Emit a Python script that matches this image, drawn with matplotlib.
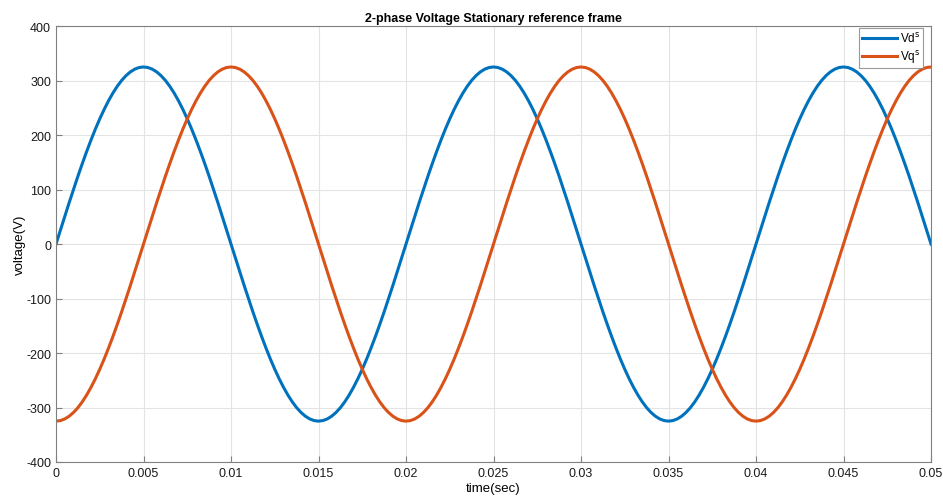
import matplotlib
matplotlib.use("Agg")
import matplotlib.pyplot as plt

plt.rcParams['font.family'] = ['Liberation Sans', 'DejaVu Sans']
plt.rcParams['axes.unicode_minus'] = False

# time samples (s), 0.25 ms apart
t = [i * 0.00025 for i in range(201)]

# alpha-axis voltage
vd = [0, 25.5, 50.8, 75.9, 100.4, 124.4, 147.5, 169.8, 191.0, 211.1,
      229.8, 247.1, 262.9, 277.1, 289.6, 300.3, 309.1, 316.0, 321.0, 324.0,
      325, 324.0, 321.0, 316.0, 309.1, 300.3, 289.6, 277.1, 262.9, 247.1,
      229.8, 211.1, 191.0, 169.8, 147.5, 124.4, 100.4, 75.9, 50.8, 25.5,
      0, -25.5, -50.8, -75.9, -100.4, -124.4, -147.5, -169.8, -191.0, -211.1,
      -229.8, -247.1, -262.9, -277.1, -289.6, -300.3, -309.1, -316.0, -321.0, -324.0,
      -325, -324.0, -321.0, -316.0, -309.1, -300.3, -289.6, -277.1, -262.9, -247.1,
      -229.8, -211.1, -191.0, -169.8, -147.5, -124.4, -100.4, -75.9, -50.8, -25.5,
      0, 25.5, 50.8, 75.9, 100.4, 124.4, 147.5, 169.8, 191.0, 211.1,
      229.8, 247.1, 262.9, 277.1, 289.6, 300.3, 309.1, 316.0, 321.0, 324.0,
      325, 324.0, 321.0, 316.0, 309.1, 300.3, 289.6, 277.1, 262.9, 247.1,
      229.8, 211.1, 191.0, 169.8, 147.5, 124.4, 100.4, 75.9, 50.8, 25.5,
      0, -25.5, -50.8, -75.9, -100.4, -124.4, -147.5, -169.8, -191.0, -211.1,
      -229.8, -247.1, -262.9, -277.1, -289.6, -300.3, -309.1, -316.0, -321.0, -324.0,
      -325, -324.0, -321.0, -316.0, -309.1, -300.3, -289.6, -277.1, -262.9, -247.1,
      -229.8, -211.1, -191.0, -169.8, -147.5, -124.4, -100.4, -75.9, -50.8, -25.5,
      0, 25.5, 50.8, 75.9, 100.4, 124.4, 147.5, 169.8, 191.0, 211.1,
      229.8, 247.1, 262.9, 277.1, 289.6, 300.3, 309.1, 316.0, 321.0, 324.0,
      325, 324.0, 321.0, 316.0, 309.1, 300.3, 289.6, 277.1, 262.9, 247.1,
      229.8, 211.1, 191.0, 169.8, 147.5, 124.4, 100.4, 75.9, 50.8, 25.5,
      0]

# beta-axis voltage
vq = [-325, -324.0, -321.0, -316.0, -309.1, -300.3, -289.6, -277.1, -262.9, -247.1,
      -229.8, -211.1, -191.0, -169.8, -147.5, -124.4, -100.4, -75.9, -50.8, -25.5,
      0, 25.5, 50.8, 75.9, 100.4, 124.4, 147.5, 169.8, 191.0, 211.1,
      229.8, 247.1, 262.9, 277.1, 289.6, 300.3, 309.1, 316.0, 321.0, 324.0,
      325, 324.0, 321.0, 316.0, 309.1, 300.3, 289.6, 277.1, 262.9, 247.1,
      229.8, 211.1, 191.0, 169.8, 147.5, 124.4, 100.4, 75.9, 50.8, 25.5,
      0, -25.5, -50.8, -75.9, -100.4, -124.4, -147.5, -169.8, -191.0, -211.1,
      -229.8, -247.1, -262.9, -277.1, -289.6, -300.3, -309.1, -316.0, -321.0, -324.0,
      -325, -324.0, -321.0, -316.0, -309.1, -300.3, -289.6, -277.1, -262.9, -247.1,
      -229.8, -211.1, -191.0, -169.8, -147.5, -124.4, -100.4, -75.9, -50.8, -25.5,
      0, 25.5, 50.8, 75.9, 100.4, 124.4, 147.5, 169.8, 191.0, 211.1,
      229.8, 247.1, 262.9, 277.1, 289.6, 300.3, 309.1, 316.0, 321.0, 324.0,
      325, 324.0, 321.0, 316.0, 309.1, 300.3, 289.6, 277.1, 262.9, 247.1,
      229.8, 211.1, 191.0, 169.8, 147.5, 124.4, 100.4, 75.9, 50.8, 25.5,
      0, -25.5, -50.8, -75.9, -100.4, -124.4, -147.5, -169.8, -191.0, -211.1,
      -229.8, -247.1, -262.9, -277.1, -289.6, -300.3, -309.1, -316.0, -321.0, -324.0,
      -325, -324.0, -321.0, -316.0, -309.1, -300.3, -289.6, -277.1, -262.9, -247.1,
      -229.8, -211.1, -191.0, -169.8, -147.5, -124.4, -100.4, -75.9, -50.8, -25.5,
      0, 25.5, 50.8, 75.9, 100.4, 124.4, 147.5, 169.8, 191.0, 211.1,
      229.8, 247.1, 262.9, 277.1, 289.6, 300.3, 309.1, 316.0, 321.0, 324.0,
      325]

xticks = [0, 0.005, 0.01, 0.015, 0.02, 0.025, 0.03, 0.035, 0.04, 0.045, 0.05]
xtick_labels = ['0', '0.005', '0.01', '0.015', '0.02', '0.025', '0.03',
                '0.035', '0.04', '0.045', '0.05']
yticks = [-400, -300, -200, -100, 0, 100, 200, 300, 400]

fig = plt.figure(figsize=(9.43, 5.02), dpi=100)
ax = fig.add_axes([0.0594, 0.0777, 0.9279, 0.8683])

ax.plot(t, vd, color='#0072BD', lw=2.2, label=r'Vd$^{\mathrm{s}}$')
ax.plot(t, vq, color='#D95319', lw=2.2, label=r'Vq$^{\mathrm{s}}$')

ax.set_xlim(0, 0.05)
ax.set_ylim(-400, 400)
ax.set_xticks(xticks)
ax.set_xticklabels(xtick_labels)
ax.set_yticks(yticks)
ax.tick_params(direction='in', length=4, labelsize=9, colors='#808080',
               labelcolor='#1a1a1a')
ax.grid(True, color='#e3e3e3', lw=0.8)
ax.set_axisbelow(True)
for s in ax.spines.values():
    s.set_color('#808080')
    s.set_linewidth(0.8)

ax.set_xlabel('time(sec)', fontsize=9.5, labelpad=2)
ax.set_ylabel('voltage(V)', fontsize=9.5, labelpad=0)
ax.set_title('2-phase Voltage Stationary reference frame', fontsize=9,
             fontweight='bold', pad=4)

leg = ax.legend(loc='upper right', bbox_to_anchor=(0.991, 0.996),
                fontsize=8.5, fancybox=False, handlelength=3.0,
                borderpad=0.25, labelspacing=0.25, handletextpad=0.2,
                borderaxespad=0)
leg.get_frame().set_edgecolor('#808080')
leg.get_frame().set_linewidth(0.8)

fig.savefig('out.png', dpi=100)
plt.close(fig)
